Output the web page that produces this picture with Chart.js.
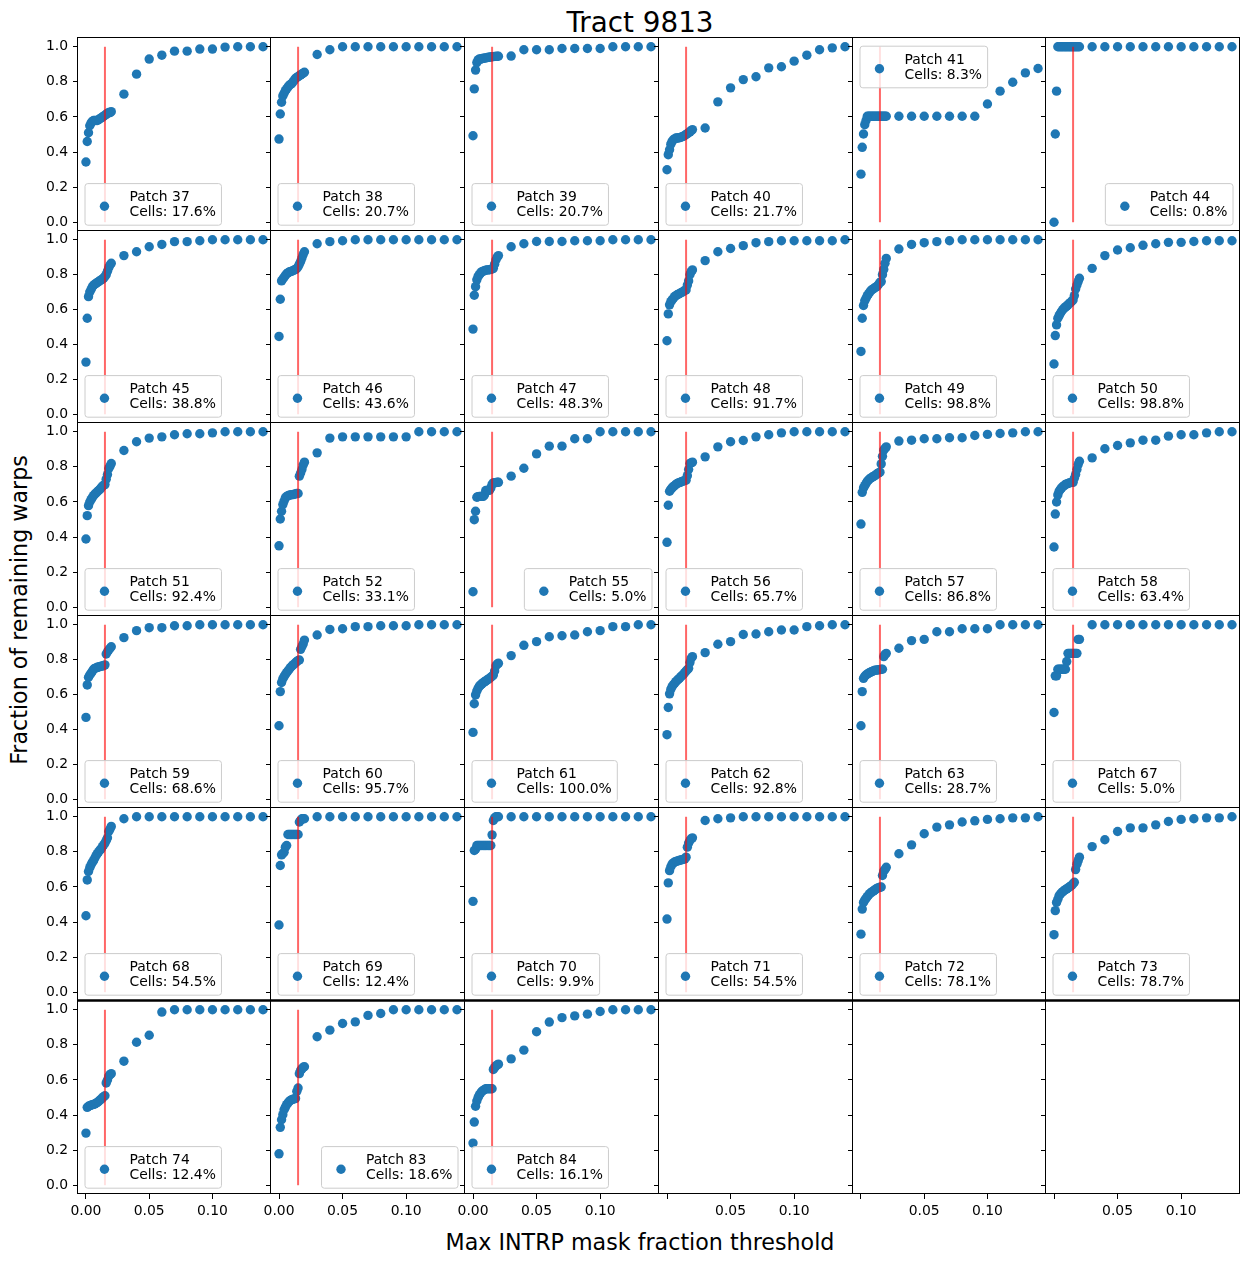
<!DOCTYPE html>
<html><head><meta charset="utf-8">
<script src="https://cdn.jsdelivr.net/npm/chart.js@4"></script>
<style>
html,body{margin:0;padding:0;background:#fff;}
body{width:1250px;height:1264px;position:relative;overflow:hidden;}
canvas{position:absolute;}
.lbl{position:absolute;font-family:'DejaVu Sans',sans-serif;color:#000;line-height:1;white-space:nowrap;}
</style></head><body>
<div class="lbl" style="font-size:27.8px;left:140px;width:1000px;text-align:center;top:8.5px">Tract 9813</div>
<div class="lbl" style="font-size:22.2px;left:140px;width:1000px;text-align:center;top:1231px">Max INTRP mask fraction threshold</div>
<div class="lbl" style="font-size:22.2px;left:18.8px;top:610px;transform:translate(-50%,-50%) rotate(-90deg)">Fraction of remaining warps</div>
<script>
// ---------------- data ----------------
const THRESHOLDS = [0, 0.001, 0.002, 0.003, 0.004, 0.005, 0.006, 0.007, 0.008, 0.009, 0.010,
  0.011, 0.012, 0.013, 0.014, 0.015, 0.016, 0.017, 0.018, 0.019, 0.020,
  0.03, 0.04, 0.05, 0.06, 0.07, 0.08, 0.09, 0.10, 0.11, 0.12, 0.13, 0.14];
const X_TICKS = [0, 0.05, 0.10];
const Y_TICKS = [0, 0.2, 0.4, 0.6, 0.8, 1.0];
const CUT = 0.015;

const PATCH_IDS = [37, 38, 39, 40, 41, 44, 45, 46, 47, 48, 49, 50, 51, 52, 55, 56, 57, 58,
  59, 60, 61, 62, 63, 67, 68, 69, 70, 71, 72, 73, 74, 83, 84];
const CELLS = ['17.6', '20.7', '20.7', '21.7', '8.3', '0.8', '38.8', '43.6', '48.3', '91.7', '98.8', '98.8',
  '92.4', '33.1', '5.0', '65.7', '86.8', '63.4', '68.6', '95.7', '100.0', '92.8', '28.7', '5.0',
  '54.5', '12.4', '9.9', '54.5', '78.1', '78.7', '12.4', '18.6', '16.1'];

const P37 = [0.343,0.46,0.51,0.55,0.565,0.575,0.58,0.58,0.58,0.58,0.585,0.59,0.595,0.60,0.605,0.61,0.615,0.62,0.625,0.625,0.63, 0.73,0.844,0.93,0.952,0.975,0.975,0.987,0.987,0.998,1,1,1];
const P38 = [0.474,0.617,0.684,0.72,0.735,0.75,0.76,0.77,0.78,0.785,0.79,0.80,0.81,0.82,0.825,0.83,0.835,0.84,0.845,0.85,0.855, 0.956,0.983,1,1,1,1,1,1,1,1,1,1];
const P39 = [0.493,0.76,0.867,0.91,0.925,0.93,0.93,0.932,0.935,0.935,0.937,0.938,0.94,0.94,0.942,0.943,0.944,0.945,0.945,0.946,0.946, 0.947,0.983,0.983,0.983,0.99,0.99,0.99,0.99,1,1,1,1];
const P40 = [0.299,0.385,0.413,0.445,0.461,0.47,0.475,0.48,0.48,0.48,0.482,0.485,0.488,0.49,0.495,0.50,0.505,0.51,0.515,0.522,0.528, 0.537,0.686,0.766,0.813,0.829,0.88,0.886,0.918,0.952,0.983,0.994,1];
const P41 = [0.274,0.427,0.503,0.556,0.58,0.604,0.604,0.604,0.604,0.604,0.604,0.604,0.604,0.604,0.604,0.604,0.604,0.604,0.604,0.604,0.604, 0.604,0.604,0.604,0.604,0.604,0.604,0.604,0.674,0.747,0.798,0.851,0.876];
const P44 = [0,0.503,0.747,1,1,1,1,1,1,1,1,1,1,1,1,1,1,1,1,1,1, 1,1,1,1,1,1,1,1,1,1,1,1];
const P45 = [0.299,0.55,0.674,0.70,0.715,0.73,0.74,0.745,0.75,0.755,0.76,0.765,0.77,0.775,0.78,0.79,0.80,0.82,0.84,0.855,0.865, 0.909,0.931,0.96,0.973,0.989,0.989,0.994,1,1,1,1,1];
const P46 = [0.446,0.659,0.764,0.775,0.785,0.795,0.805,0.81,0.815,0.817,0.82,0.823,0.827,0.83,0.835,0.845,0.86,0.875,0.895,0.915,0.931, 0.977,0.989,0.994,1,1,1,1,1,1,1,1,1];
const P47 = [0.488,0.682,0.731,0.77,0.79,0.80,0.81,0.817,0.82,0.822,0.825,0.827,0.827,0.828,0.83,0.832,0.836,0.86,0.884,0.90,0.909, 0.96,0.977,0.99,0.99,0.99,0.994,0.994,0.994,1,1,1,1];
const P48 = [0.421,0.575,0.627,0.645,0.655,0.665,0.674,0.68,0.685,0.688,0.692,0.696,0.70,0.705,0.71,0.712,0.74,0.764,0.80,0.817,0.827, 0.88,0.931,0.95,0.966,0.983,0.989,0.994,0.994,0.994,0.994,0.994,1];
const P49 = [0.36,0.55,0.623,0.65,0.665,0.68,0.69,0.70,0.71,0.715,0.72,0.725,0.73,0.735,0.745,0.755,0.76,0.80,0.83,0.865,0.893, 0.947,0.973,0.983,0.989,0.994,1,1,1,1,1,1,1];
const P50 = [0.288,0.451,0.512,0.55,0.565,0.579,0.59,0.60,0.608,0.615,0.62,0.627,0.635,0.64,0.648,0.655,0.68,0.718,0.74,0.76,0.779, 0.836,0.909,0.941,0.954,0.968,0.977,0.985,0.985,0.99,0.994,0.994,0.994];
const P51 = [0.389,0.522,0.579,0.60,0.613,0.625,0.636,0.645,0.651,0.658,0.665,0.672,0.68,0.69,0.695,0.699,0.73,0.756,0.79,0.804,0.819, 0.893,0.943,0.964,0.971,0.983,0.989,0.989,0.994,1,1,1,1];
const P52 = [0.35,0.503,0.547,0.585,0.605,0.623,0.63,0.636,0.638,0.64,0.642,0.642,0.644,0.646,0.648,0.648,0.747,0.765,0.785,0.81,0.827, 0.88,0.964,0.971,0.971,0.971,0.971,0.971,0.971,1,1,1,1];
const P55 = [0.088,0.499,0.547,0.627,0.63,0.632,0.632,0.632,0.632,0.64,0.665,0.665,0.665,0.667,0.68,0.70,0.709,0.71,0.71,0.712,0.712, 0.747,0.792,0.874,0.918,0.918,0.96,0.96,1,1,1,1,1];
const P56 = [0.37,0.581,0.661,0.672,0.68,0.687,0.693,0.70,0.705,0.709,0.711,0.714,0.717,0.72,0.722,0.724,0.75,0.785,0.819,0.823,0.827, 0.857,0.914,0.943,0.95,0.971,0.983,0.994,1,1,1,1,1];
const P57 = [0.474,0.655,0.68,0.693,0.705,0.718,0.725,0.732,0.737,0.742,0.746,0.75,0.756,0.762,0.766,0.77,0.817,0.86,0.895,0.905,0.914, 0.947,0.952,0.96,0.96,0.966,0.966,0.979,0.985,0.99,0.994,1,1];
const P58 = [0.343,0.531,0.60,0.64,0.661,0.672,0.68,0.688,0.693,0.70,0.703,0.705,0.708,0.71,0.712,0.712,0.735,0.756,0.785,0.813,0.832, 0.851,0.903,0.922,0.937,0.952,0.952,0.975,0.983,0.983,0.994,1,1];
const P59 = [0.469,0.655,0.699,0.712,0.722,0.733,0.745,0.75,0.753,0.756,0.758,0.76,0.762,0.764,0.765,0.77,0.832,0.845,0.855,0.865,0.874, 0.926,0.966,0.983,0.983,0.994,0.994,1,1,1,1,1,1];
const P60 = [0.421,0.617,0.669,0.69,0.703,0.715,0.726,0.735,0.745,0.755,0.762,0.77,0.775,0.782,0.789,0.795,0.798,0.859,0.875,0.89,0.912, 0.941,0.973,0.977,0.989,0.989,0.994,0.994,0.994,1,1,1,1];
const P61 = [0.383,0.547,0.598,0.62,0.636,0.648,0.655,0.661,0.668,0.673,0.678,0.683,0.688,0.693,0.699,0.705,0.712,0.735,0.764,0.775,0.779, 0.823,0.882,0.903,0.931,0.937,0.941,0.96,0.966,0.989,0.989,1,1];
const P62 = [0.37,0.526,0.604,0.63,0.646,0.656,0.665,0.674,0.682,0.688,0.695,0.703,0.71,0.717,0.726,0.735,0.742,0.75,0.783,0.808,0.817, 0.84,0.888,0.903,0.944,0.947,0.96,0.97,0.97,0.989,0.994,1,1];
const P63 = [0.421,0.617,0.693,0.705,0.712,0.718,0.722,0.726,0.73,0.733,0.737,0.739,0.74,0.741,0.742,0.743,0.745,0.745,0.817,0.83,0.836, 0.865,0.909,0.916,0.96,0.96,0.977,0.977,0.977,1,1,1,1];
const P67 = [0.497,0.707,0.707,0.745,0.745,0.745,0.745,0.745,0.745,0.745,0.789,0.836,0.836,0.836,0.836,0.836,0.836,0.836,0.836,0.916,0.916, 1,1,1,1,1,1,1,1,1,1,1,1];
const P68 = [0.436,0.64,0.688,0.71,0.726,0.74,0.75,0.765,0.779,0.79,0.80,0.81,0.817,0.83,0.84,0.85,0.865,0.88,0.916,0.93,0.945, 0.989,1,1,1,1,1,1,1,1,1,1,1];
const P69 = [0.383,0.722,0.783,0.79,0.798,0.827,0.836,0.899,0.899,0.899,0.899,0.899,0.899,0.899,0.899,0.899,0.97,0.98,0.989,0.989,0.989, 1,1,1,1,1,1,1,1,1,1,1,1];
const P70 = [0.518,0.808,0.815,0.836,0.836,0.836,0.836,0.836,0.836,0.836,0.836,0.836,0.836,0.836,0.836,0.897,0.979,0.994,1,1,1, 1,1,1,1,1,1,1,1,1,1,1,1];
const P71 = [0.417,0.623,0.693,0.715,0.73,0.737,0.742,0.745,0.747,0.75,0.752,0.754,0.756,0.758,0.76,0.77,0.827,0.85,0.865,0.875,0.88, 0.979,0.989,0.994,1,1,1,1,1,1,1,1,1];
const P72 = [0.331,0.474,0.512,0.525,0.535,0.545,0.554,0.562,0.568,0.573,0.578,0.583,0.589,0.593,0.596,0.598,0.60,0.665,0.69,0.70,0.712, 0.789,0.84,0.903,0.941,0.954,0.97,0.977,0.985,0.989,0.994,0.994,1];
const P73 = [0.328,0.465,0.512,0.53,0.55,0.56,0.567,0.573,0.58,0.585,0.589,0.595,0.60,0.605,0.61,0.618,0.627,0.699,0.73,0.75,0.77, 0.83,0.869,0.916,0.937,0.937,0.954,0.973,0.985,0.989,0.994,0.994,1];
const P74 = [0.297,0.444,0.45,0.453,0.456,0.459,0.461,0.463,0.468,0.472,0.478,0.485,0.491,0.498,0.505,0.51,0.583,0.60,0.621,0.63,0.636, 0.707,0.815,0.855,0.987,1,1,1,1,1,1,1,1];
const P83 = [0.179,0.33,0.373,0.402,0.43,0.445,0.459,0.468,0.478,0.483,0.488,0.49,0.492,0.495,0.535,0.554,0.636,0.655,0.663,0.672,0.675, 0.846,0.884,0.922,0.931,0.968,0.979,1,1,1,1,1,1];
const P84 = [0.24,0.36,0.45,0.48,0.50,0.515,0.525,0.535,0.54,0.545,0.55,0.55,0.55,0.55,0.55,0.55,0.66,0.67,0.68,0.685,0.69, 0.72,0.77,0.875,0.93,0.955,0.965,0.975,0.99,1,1,1,1];

const SERIES = [P37,P38,P39,P40,P41,P44,P45,P46,P47,P48,P49,P50,P51,P52,P55,P56,P57,P58,
  P59,P60,P61,P62,P63,P67,P68,P69,P70,P71,P72,P73,P74,P83,P84];

// legend placement per panel (layout, not data)
const LEGEND_LOC = PATCH_IDS.map(id => id === 41 ? 'upper left' : (id === 44 || id === 55 || id === 83) ? 'lower right' : 'lower left');

// ---------------- layout / style ----------------
const COL_X = [78, 271, 465, 659, 853, 1046, 1240];
const ROW_Y = [38, 231, 423, 616, 808, 1001, 1194];
const X_MIN = -0.0063, X_MAX = 0.1463, Y_MIN = -0.05, Y_MAX = 1.05;
const FONT = "'DejaVu Sans', sans-serif";
const FS = 13.9;
const BLUE = '#1f77b4';
const R = 4.7;

Chart.defaults.font.family = FONT;
Chart.defaults.font.size = FS;
Chart.defaults.color = '#000';

const framePlugin = {
  id: 'frame',
  afterDraw(chart, args, opts) {
    const a = chart.chartArea, ctx = chart.ctx;
    ctx.save();
    ctx.strokeStyle = '#000';
    ctx.lineWidth = 1;
    ctx.strokeRect(Math.round(a.left) - 0.5, Math.round(a.top) - 0.5,
      Math.round(a.right) - Math.round(a.left), Math.round(a.bottom) - Math.round(a.top));
    if (opts && opts.thickTop) {
      ctx.lineWidth = 2.5;
      ctx.beginPath();
      ctx.moveTo(a.left - 1, Math.round(a.top) - 0.5);
      ctx.lineTo(a.right, Math.round(a.top) - 0.5);
      ctx.stroke();
    }
    ctx.restore();
  }
};

const legendPlugin = {
  id: 'patchLegend',
  afterDatasetsDraw(chart, args, opts) {
    if (!opts || !opts.lines) return;
    const ctx = chart.ctx, a = chart.chartArea;
    ctx.save();
    ctx.font = FS + 'px ' + FONT;
    const tw = Math.max(...opts.lines.map(t => ctx.measureText(t).width));
    const w = tw + 3.6 * FS, h = 41.6, pad = 7;
    const x = opts.loc.includes('right') ? a.right - pad - w : a.left + pad;
    const y = (opts.loc.includes('upper') ? a.top + pad : a.bottom - pad - h) + 1.2;
    ctx.beginPath();
    if (ctx.roundRect) ctx.roundRect(x, y, w, h, 2.8); else ctx.rect(x, y, w, h);
    ctx.fillStyle = 'rgba(255,255,255,0.8)';
    ctx.fill();
    ctx.strokeStyle = '#cccccc';
    ctx.lineWidth = 1;
    ctx.stroke();
    ctx.beginPath();
    ctx.arc(x + 1.4 * FS, y + 22.6, R, 0, Math.PI * 2);
    ctx.fillStyle = BLUE;
    ctx.fill();
    ctx.fillStyle = '#000';
    ctx.textAlign = 'left';
    ctx.textBaseline = 'alphabetic';
    ctx.fillText(opts.lines[0], x + 3.2 * FS, y + 17.6);
    ctx.fillText(opts.lines[1], x + 3.2 * FS, y + 32.6);
    ctx.restore();
  }
};

for (let i = 0; i < 36; i++) {
  const r = Math.floor(i / 6), c = i % 6;
  const hasData = i < SERIES.length;
  const emptyBottom = !hasData;
  const mL = c === 0 ? 78 : 14, mR = 8, mT = 20, mB = r === 5 ? 36 : 20;
  const axL = COL_X[c], axR = COL_X[c + 1], axT = ROW_Y[r], axB = ROW_Y[r + 1];
  const W = axR - axL + mL + mR, H = axB - axT + mT + mB;
  const cv = document.createElement('canvas');
  cv.width = W; cv.height = H;
  cv.style.left = (axL - mL) + 'px';
  cv.style.top = (axT - mT) + 'px';
  cv.style.width = W + 'px';
  cv.style.height = H + 'px';
  document.body.appendChild(cv);

  const datasets = [];
  if (hasData) {
    datasets.push({
      label: 'cut', data: [{x: CUT, y: 0}, {x: CUT, y: 1}], showLine: true,
      borderColor: 'rgba(255,0,0,0.6)', borderWidth: 2, pointRadius: 0, order: 0
    });
    datasets.push({
      label: 'Patch ' + PATCH_IDS[i],
      data: THRESHOLDS.map((x, k) => ({x: x, y: SERIES[i][k]})),
      backgroundColor: BLUE, borderWidth: 0, pointRadius: R, pointHoverRadius: R, order: 1
    });
  }

  new Chart(cv, {
    type: 'scatter',
    data: {datasets},
    plugins: [framePlugin, legendPlugin],
    options: {
      responsive: false, animation: false, events: [],
      layout: {padding: {left: 0, right: mR, top: mT, bottom: 0}},
      plugins: {
        legend: {display: false}, tooltip: {enabled: false}, title: {display: false},
        frame: {thickTop: r === 5},
        patchLegend: hasData ? {lines: ['Patch ' + PATCH_IDS[i], 'Cells: ' + CELLS[i] + '%'], loc: LEGEND_LOC[i]} : {}
      },
      scales: {
        x: {
          type: 'linear', min: X_MIN, max: X_MAX,
          afterBuildTicks: s => { s.ticks = X_TICKS.map(v => ({value: v})); },
          afterFit: s => { s.height = mB; },
          border: {display: false},
          grid: {display: r === 5, drawOnChartArea: false, drawTicks: true, tickLength: 5, color: '#000', lineWidth: 1},
          ticks: {
            display: r === 5, padding: 4, maxRotation: 0, autoSkip: false, color: '#000',
            font: {family: FONT, size: FS},
            callback: v => (emptyBottom && v === 0) ? '' : Number(v).toFixed(2)
          }
        },
        y: {
          type: 'linear', min: Y_MIN, max: Y_MAX,
          afterBuildTicks: s => { s.ticks = Y_TICKS.map(v => ({value: v})); },
          afterFit: s => { s.width = mL; },
          border: {display: false},
          grid: {display: true, drawOnChartArea: false, drawTicks: true, tickLength: 5, color: '#000', lineWidth: 1},
          ticks: {
            display: c === 0, padding: 5, color: '#000',
            font: {family: FONT, size: FS},
            callback: v => Number(v).toFixed(1)
          }
        }
      }
    }
  });
}
</script>
</body></html>
